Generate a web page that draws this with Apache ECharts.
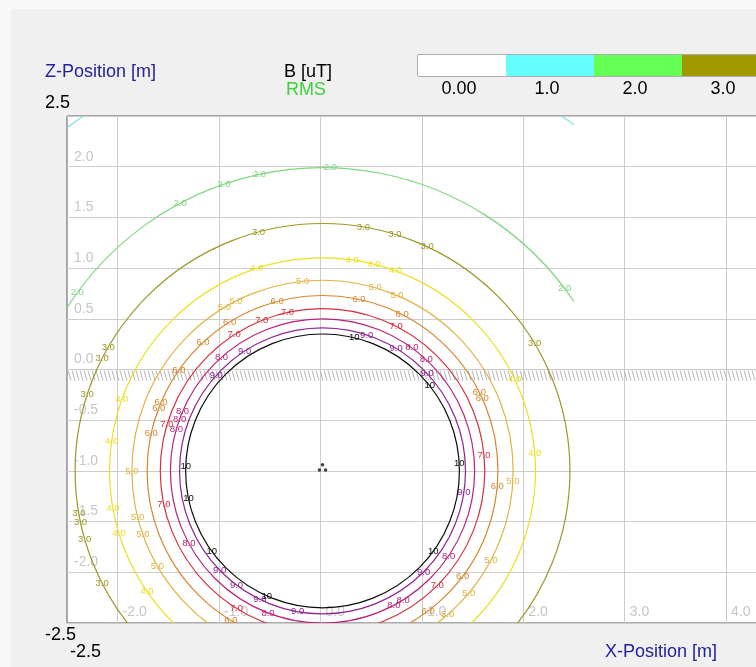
<!DOCTYPE html>
<html>
<head>
<meta charset="utf-8">
<script src="https://cdn.jsdelivr.net/npm/echarts@6/dist/echarts.min.js"></script>
<style>
  html, body { margin: 0; padding: 0; background: #f0f0f0; }
  #chart { width: 756px; height: 667px; }
</style>
</head>
<body>
<div id="chart"></div>
<script>
// Field levels of the RMS magnetic flux density B [uT] around a buried trefoil cable
const levels = [1.0, 2.0, 3.0, 4.0, 5.0, 6.0, 7.0, 8.0, 9.0, 10];
const levelText = ['1.0', '2.0', '3.0', '4.0', '5.0', '6.0', '7.0', '8.0', '9.0', '10'];
// contour radius [m] around the cable axis, one per level
const levelRadii = [4.22, 2.99, 2.44, 2.10, 1.88, 1.73, 1.60, 1.50, 1.41, 1.35];
const levelColors = ['#80e2e2', '#7ed67e', '#9e9826', '#ece020', '#e2b440', '#d8862e',
                     '#d6303e', '#bc2478', '#90248f', '#0c0c0c'];
// where each contour carries its value label (degrees, counter-clockwise from +X)
const labelAngles = [
  [],
  [144, 118, 109, 102, 88.5, 37],
  [105, 80.5, 73, 65, 31, 150, 153, 162, 190, 192, 196, 207],
  [108, 82, 76, 70, 160.5, 172, 190, 197, 214.5, 4.7, 25.6],
  [96, 117, 121, 74, 67, 180, 194, 199.5, 210, 357, 332, 320, 311],
  [105, 122, 133, 78, 63, 145, 157, 159, 167.5, 238.5, 26.6, 24.4, 355, 323, 307],
  [102.5, 112, 123, 63, 163.5, 192, 238, 5.5, 315],
  [54, 47, 131.6, 157, 160, 164, 208.5, 249, 326, 302, 298],
  [123, 72, 59, 138, 224, 233, 244, 260, 43, 351.5, 315],
  [76.6, 178, 191.6, 216, 246, 38.5, 3.2, 324]
];
// cable axis and the three conductors of the trefoil [X, Z] in m
const cableCenter = [0.02, -1.0];
const conductors = [[-0.01, -0.99], [0.02, -0.94], [0.05, -0.99]];
// extent of the computed field along X [m]
const fieldDomainX = [-2.5, 2.5];
// ground surface level [m]
const groundLevel = [0];

// axes
const xRange = [-2.5, 5.0];
const zRange = [-2.5, 2.5];
const xTicks = [-2, -1, 0, 1, 2, 3, 4];
const xEdgeTicks = [-2.5];
const zEdgeTicks = [-2.5, 2.5];

// colour scale legend
const legendLabels = ['0.00', '1.0', '2.0', '3.0'];
const legendColors = ['#ffffff', '#66ffff', '#66ff55', '#a09a00'];
const legendCells = [1, 1, 1, 1];

const FONT = '"Liberation Sans", Arial, sans-serif';

function renderContour(params, api) {
  const i = params.dataIndex;
  const c = api.coord([api.value(0), api.value(1)]);
  const r = api.value(2);
  const rpx = api.size([r, 0])[0];
  const color = levelColors[i];
  const children = [];

  // keep only the part of the circle inside the computed X range
  const cx = api.value(0);
  const dr = fieldDomainX[1] - cx;
  const dl = cx - fieldDomainX[0];
  const deg = Math.PI / 180;
  let spans;
  const cutR = r > dr, cutL = r > dl;
  const a0 = cutR ? Math.acos(dr / r) / deg : 0;
  const a1 = cutL ? Math.acos(dl / r) / deg : 0;
  if (cutR && cutL) spans = [[a0, 180 - a1], [180 + a1, 360 - a0]];
  else if (cutR) spans = [[a0, 360 - a0]];
  else if (cutL) spans = [[180 + a1 - 360, 180 - a1]];
  else spans = null;

  const lineStyle = { stroke: color, fill: null, lineWidth: 1.2 };
  if (!spans) {
    children.push({
      type: 'circle',
      shape: { cx: c[0], cy: c[1], r: rpx },
      style: lineStyle
    });
  } else {
    spans.forEach(function (s) {
      children.push({
        type: 'arc',
        shape: { cx: c[0], cy: c[1], r: rpx, startAngle: -s[1] * deg, endAngle: -s[0] * deg, clockwise: true },
        style: lineStyle
      });
    });
  }

  labelAngles[i].forEach(function (a) {
    children.push({
      type: 'text',
      style: {
        x: c[0] + rpx * Math.cos(a * deg),
        y: c[1] - rpx * Math.sin(a * deg),
        text: levelText[i],
        fill: color,
        font: '9.5px ' + FONT,
        align: 'center',
        verticalAlign: 'middle'
      }
    });
  });
  return { type: 'group', children: children };
}

function renderGround(params, api) {
  const z = api.value(0);
  const p0 = api.coord([xRange[0], z]);
  const p1 = api.coord([xRange[1], z]);
  const y = p0[1];
  const children = [];
  for (let x = p0[0] + 1; x < p1[0]; x += 4) {
    children.push({
      type: 'line',
      shape: { x1: x, y1: y + 1, x2: x + 3, y2: y + 11 },
      style: { stroke: '#b4b4b4', lineWidth: 1 }
    });
  }
  return { type: 'group', children: children };
}

const chart = echarts.init(document.getElementById('chart'), null, { renderer: 'canvas' });

const option = {
  backgroundColor: '#f0f0f0',
  animation: false,
  graphic: [
    { type: 'rect', left: 0, top: 0, shape: { width: 11, height: 667 }, style: { fill: '#f8f8f8' }, silent: true, z: -10 },
    { type: 'rect', left: 0, top: 0, shape: { width: 756, height: 9 }, style: { fill: '#f8f8f8' }, silent: true, z: -10 }
  ],
  title: [
    { text: 'Z-Position [m]', left: 45, top: 63, padding: 0,
      textStyle: { color: '#22229e', fontSize: 18, fontWeight: 'normal', fontFamily: FONT } },
    { text: 'B [uT]', left: 284, top: 63, padding: 0,
      textStyle: { color: '#000000', fontSize: 18, fontWeight: 'normal', fontFamily: FONT } },
    { text: 'RMS', left: 286, top: 81, padding: 0,
      textStyle: { color: '#3cd23c', fontSize: 18, fontWeight: 'normal', fontFamily: FONT } },
    { text: 'X-Position [m]', left: 605, top: 643, padding: 0,
      textStyle: { color: '#22229e', fontSize: 18, fontWeight: 'normal', fontFamily: FONT } }
  ],
  grid: [
    { left: 67, top: 116, width: 760.5, height: 507, show: true, backgroundColor: '#ffffff',
      borderColor: '#5a5a5a', borderWidth: 1, containLabel: false, outerBoundsMode: 'none' },
    { left: 418, top: 55, width: 352, height: 21, show: true, backgroundColor: '#ffffff',
      borderColor: '#6a6a6a', borderWidth: 1, containLabel: false, outerBoundsMode: 'none' }
  ],
  xAxis: [
    { type: 'value', gridIndex: 0, min: xRange[0], max: xRange[1], position: 'bottom',
      axisLine: { show: false }, axisTick: { show: false, customValues: xTicks },
      splitLine: { show: true, lineStyle: { color: '#cdcdcd', width: 1 } },
      axisLabel: { show: true, customValues: xTicks, inside: true, margin: 4, align: 'left',
        padding: [0, 0, 0, 5], color: '#c6c6c6', fontSize: 14, fontFamily: FONT,
        formatter: function (v) { return v.toFixed(1); } } },
    { type: 'value', gridIndex: 0, min: xRange[0], max: xRange[1], position: 'bottom',
      axisLine: { show: false }, axisTick: { show: false, customValues: xEdgeTicks },
      splitLine: { show: false },
      axisLabel: { show: true, customValues: xEdgeTicks, margin: 20, align: 'left',
        padding: [0, 0, 0, 3], color: '#000000', fontSize: 18, fontFamily: FONT,
        formatter: function (v) { return v.toFixed(1); } } },
    { type: 'category', gridIndex: 1, data: legendLabels, position: 'bottom',
      axisLine: { show: false }, axisTick: { show: false }, splitLine: { show: false },
      axisLabel: { show: true, interval: 0, margin: 4, padding: [0, 6, 0, 0],
        color: '#000000', fontSize: 18, fontFamily: FONT } }
  ],
  yAxis: [
    { type: 'value', gridIndex: 0, min: zRange[0], max: zRange[1], interval: 0.5,
      axisLine: { show: false }, axisTick: { show: false },
      splitLine: { show: true, lineStyle: { color: '#cdcdcd', width: 1 } },
      axisLabel: { show: true, inside: true, margin: 7, align: 'left', verticalAlign: 'bottom',
        padding: [0, 0, 3, 0], color: '#c6c6c6', fontSize: 14, fontFamily: FONT,
        formatter: function (v) { return Math.abs(v) >= 2.5 ? '' : v.toFixed(1); } } },
    { type: 'value', gridIndex: 0, min: zRange[0], max: zRange[1], position: 'left',
      axisLine: { show: false }, axisTick: { show: false, customValues: zEdgeTicks },
      splitLine: { show: false },
      axisLabel: { show: true, customValues: zEdgeTicks, margin: 22, align: 'left',
        color: '#000000', fontSize: 18, fontFamily: FONT,
        formatter: function (v) { return (v > 0 ? '{hi|' : '{lo|') + v.toFixed(1) + '}'; },
        rich: {
          hi: { padding: [0, 0, 26, 0], fontSize: 18, fontFamily: FONT, color: '#000000' },
          lo: { padding: [24, 0, 0, 0], fontSize: 18, fontFamily: FONT, color: '#000000' }
        } } },
    { type: 'value', gridIndex: 1, min: 0, max: 1, show: false }
  ],
  series: [
    {
      name: 'ground', type: 'custom', xAxisIndex: 0, yAxisIndex: 0, clip: true, z: 1,
      data: groundLevel.map(function (z) { return [z]; }),
      encode: { y: 0 },
      renderItem: renderGround, silent: true
    },
    {
      name: 'B RMS', type: 'custom', xAxisIndex: 0, yAxisIndex: 0, clip: true, z: 3,
      data: levelRadii.map(function (r, i) { return [cableCenter[0], cableCenter[1], r, levels[i]]; }),
      encode: { x: 0, y: 1 },
      renderItem: renderContour, silent: true
    },
    {
      name: 'conductors', type: 'scatter', xAxisIndex: 0, yAxisIndex: 0, z: 4,
      data: conductors, symbol: 'circle', symbolSize: 3.5,
      itemStyle: { color: '#111111' }, silent: true
    },
    {
      name: 'scale', type: 'bar', xAxisIndex: 2, yAxisIndex: 2,
      data: legendCells, barWidth: '100%', silent: true,
      itemStyle: { color: function (p) { return legendColors[p.dataIndex]; } }
    }
  ]
};

chart.setOption(option);
</script>
</body>
</html>
